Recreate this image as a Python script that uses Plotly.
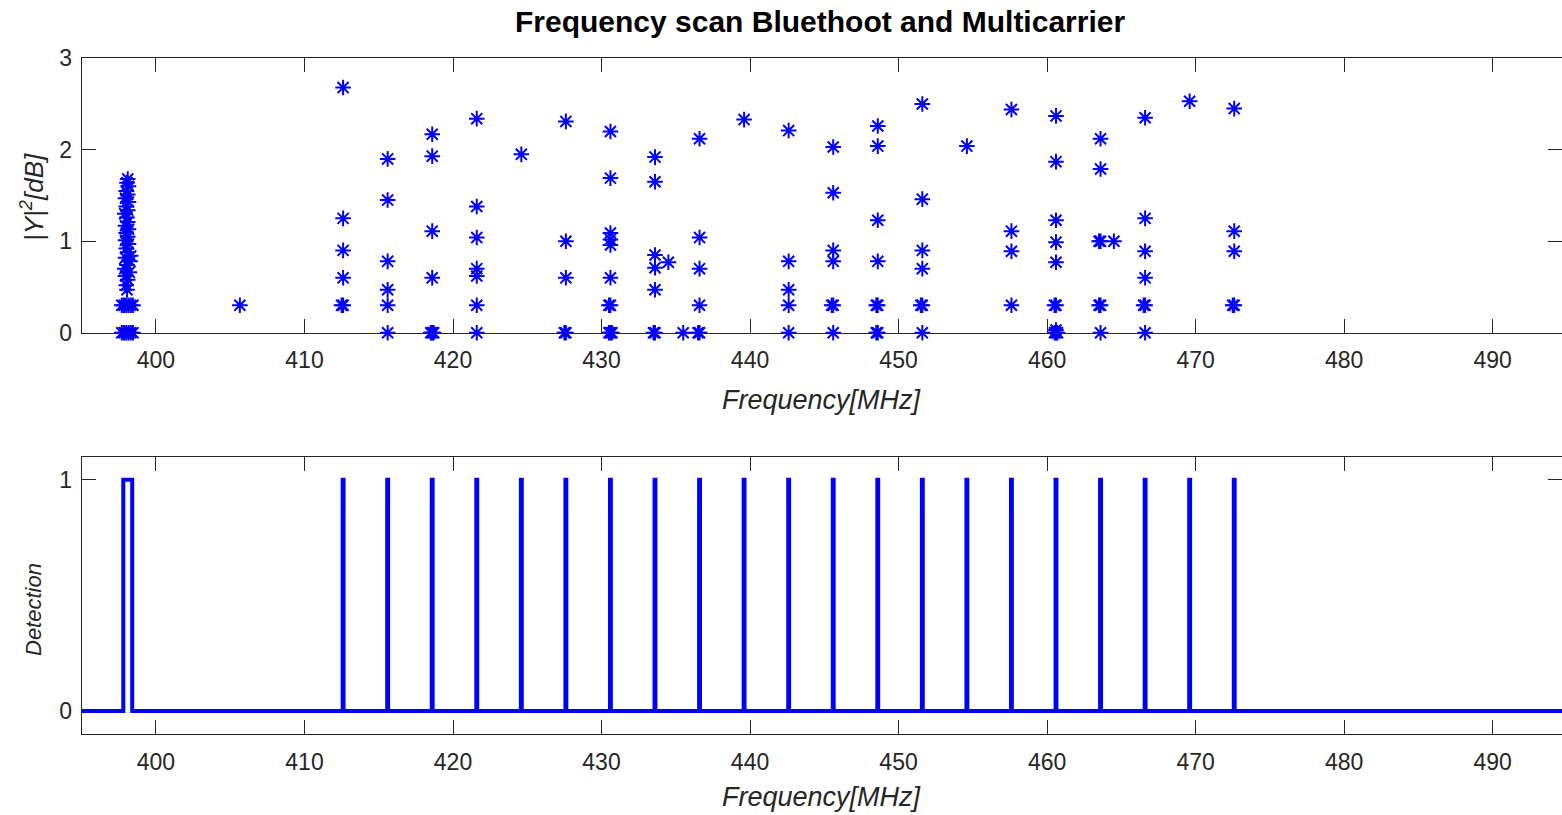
import plotly.graph_objects as go

# ---------------- data ----------------
# Top panel: |Y|^2 [dB] samples per frequency (MHz)
scan_freq = [
    # Bluetooth cluster near 398 MHz
    397.7, 397.85, 398.0, 398.15, 398.3, 398.45,
    397.7, 397.85, 398.0, 398.15, 398.3, 398.45,
    398.05, 398.0, 398.1, 397.95, 398.2, 397.9, 398.05, 398.25, 397.95, 398.3,
    398.1, 398.0, 398.15, 397.95, 398.1, 398.0, 398.15, 397.95, 398.1, 398.05,
    397.9, 398.1, 398.0, 398.15, 397.95, 398.1, 398.0, 398.15, 398.05, 398.1,
    405.65,
    412.6, 412.6, 412.6, 412.6, 412.6, 412.5,
    415.6, 415.6, 415.6, 415.6, 415.6, 415.6,
    418.6, 418.6, 418.6, 418.6, 418.6, 418.5, 418.7,
    421.6, 421.6, 421.6, 421.6, 421.6, 421.6, 421.6,
    424.6,
    427.6, 427.6, 427.6, 427.6, 427.5,
    430.6, 430.6, 430.6, 430.6, 430.6, 430.6, 430.6, 430.5, 430.6, 430.5, 430.7,
    433.6, 433.6, 433.6, 433.6, 433.6, 433.6, 433.5, 434.5,
    435.5,
    436.6, 436.6, 436.6, 436.6, 436.6, 436.5,
    439.6,
    442.6, 442.6, 442.6, 442.6, 442.6,
    445.6, 445.6, 445.6, 445.6, 445.6, 445.5, 445.6,
    448.6, 448.6, 448.6, 448.6, 448.6, 448.5, 448.6, 448.5,
    451.6, 451.6, 451.6, 451.6, 451.6, 451.5, 451.6,
    454.6,
    457.6, 457.6, 457.6, 457.6,
    460.6, 460.6, 460.6, 460.6, 460.6, 460.6, 460.5, 460.6, 460.5, 460.7, 460.6,
    463.6, 463.6, 463.6, 463.5, 463.6, 463.5, 463.6, 464.5,
    466.6, 466.6, 466.6, 466.6, 466.6, 466.5, 466.6,
    469.6,
    472.6, 472.6, 472.6, 472.6, 472.5,
]
scan_level = [
    0, 0, 0, 0, 0, 0,
    0.3, 0.3, 0.3, 0.3, 0.3, 0.3,
    0.47, 0.52, 0.58, 0.62, 0.66, 0.70, 0.74, 0.78, 0.82, 0.84,
    0.88, 0.92, 0.97, 1.01, 1.05, 1.09, 1.13, 1.17, 1.21, 1.26,
    1.30, 1.34, 1.38, 1.43, 1.47, 1.51, 1.55, 1.60, 1.64, 1.68,
    0.3,
    2.68, 1.25, 0.9, 0.6, 0.3, 0.3,
    1.9, 1.45, 0.78, 0.47, 0.3, 0,
    2.17, 1.93, 1.11, 0.6, 0, 0, 0,
    2.34, 1.38, 1.04, 0.70, 0.62, 0.3, 0,
    1.95,
    2.31, 1.0, 0.6, 0, 0,
    2.2, 1.69, 1.09, 1.02, 0.96, 0.6, 0.3, 0.3, 0, 0, 0,
    1.92, 1.65, 0.85, 0.71, 0.47, 0, 0, 0.77,
    0,
    2.12, 1.04, 0.70, 0.3, 0, 0,
    2.33,
    2.21, 0.78, 0.47, 0.3, 0,
    2.03, 1.53, 0.9, 0.78, 0.3, 0.3, 0,
    2.26, 2.04, 1.23, 0.78, 0.3, 0.3, 0, 0,
    2.5, 1.46, 0.9, 0.7, 0.3, 0.3, 0,
    2.04,
    2.44, 1.11, 0.89, 0.3,
    2.37, 1.87, 1.23, 0.99, 0.77, 0.3, 0.3, 0, 0, 0, 0.03,
    2.12, 1.79, 1.0, 1.0, 0.3, 0.3, 0, 1.0,
    2.35, 1.25, 0.89, 0.6, 0.3, 0.3, 0,
    2.53,
    2.45, 1.11, 0.89, 0.3, 0.3,
]

# Bottom panel: detection flag vs frequency (MHz)
det_freq = [
    395.0, 397.8, 397.8, 398.4, 398.4,
    412.57, 412.57, 412.63, 412.63,
    415.57, 415.57, 415.63, 415.63,
    418.57, 418.57, 418.63, 418.63,
    421.57, 421.57, 421.63, 421.63,
    424.57, 424.57, 424.63, 424.63,
    427.57, 427.57, 427.63, 427.63,
    430.57, 430.57, 430.63, 430.63,
    433.57, 433.57, 433.63, 433.63,
    436.57, 436.57, 436.63, 436.63,
    439.57, 439.57, 439.63, 439.63,
    442.57, 442.57, 442.63, 442.63,
    445.57, 445.57, 445.63, 445.63,
    448.57, 448.57, 448.63, 448.63,
    451.57, 451.57, 451.63, 451.63,
    454.57, 454.57, 454.63, 454.63,
    457.57, 457.57, 457.63, 457.63,
    460.57, 460.57, 460.63, 460.63,
    463.57, 463.57, 463.63, 463.63,
    466.57, 466.57, 466.63, 466.63,
    469.57, 469.57, 469.63, 469.63,
    472.57, 472.57, 472.63, 472.63,
    495.0,
]
det_val = [0, 0, 1, 1, 0] + [0, 1, 1, 0] * 21 + [0]

x_ticks = [400, 410, 420, 430, 440, 450, 460, 470, 480, 490]
top_y_ticks = [0, 1, 2, 3]
bot_y_ticks = [0, 1]

# ---------------- figure ----------------
W, H = 1562, 815
BLUE = "#0000ff"
AX = "#262626"
FONT = "Liberation Sans, Arial, sans-serif"

fig = go.Figure()
fig.add_trace(go.Scatter(
    x=scan_freq, y=scan_level, mode="markers", cliponaxis=False,
    marker=dict(symbol="asterisk-open", size=13, color=BLUE,
                line=dict(width=2, color=BLUE)),
    xaxis="x", yaxis="y", showlegend=False, hoverinfo="x+y"))
fig.add_trace(go.Scatter(
    x=det_freq, y=det_val, mode="lines",
    line=dict(color=BLUE, width=4),
    xaxis="x2", yaxis="y2", showlegend=False))
# invisible helpers so the right-side tick axes are drawn
fig.add_trace(go.Scatter(x=[scan_freq[0]], y=[scan_level[0]], mode="markers",
                         marker=dict(opacity=0), xaxis="x", yaxis="y3",
                         showlegend=False, hoverinfo="skip"))
fig.add_trace(go.Scatter(x=[det_freq[0]], y=[det_val[0]], mode="markers",
                         marker=dict(opacity=0), xaxis="x2", yaxis="y4",
                         showlegend=False, hoverinfo="skip"))

left = 81.7 / W
xr = [395.0, 395.0 + (W - 81.7) / 14.852]

common_x = dict(range=xr, tickvals=x_ticks, ticks="inside", ticklen=14,
                tickwidth=1.3, tickcolor=AX, showline=True, linecolor=AX,
                linewidth=1.3, mirror="ticks", showgrid=False, zeroline=False,
                tickfont=dict(family=FONT, size=23, color=AX),
                domain=[left, 1.0], automargin=False, fixedrange=True,
                ticklabelstandoff=7)
common_y = dict(ticks="inside", ticklen=14, tickwidth=1.3, tickcolor=AX,
                showline=True, linecolor=AX, linewidth=1.3, mirror=False,
                showgrid=False, zeroline=False,
                tickfont=dict(family=FONT, size=23, color=AX),
                automargin=False, fixedrange=True, ticklabelstandoff=4)
right_y = dict(ticks="inside", ticklen=14, tickwidth=1.3, tickcolor=AX,
               showline=False, showgrid=False, zeroline=False,
               showticklabels=False, side="right", fixedrange=True,
               automargin=False)

top_dom = [1 - 332.7 / H, 1 - 58.3 / H]
bot_dom = [1 - 734 / H, 1 - 456.7 / H]

fig.update_layout(
    width=W, height=H,
    margin=dict(l=0, r=0, t=0, b=0, pad=0),
    paper_bgcolor="white", plot_bgcolor="white",
    xaxis=dict(common_x, anchor="y"),
    yaxis=dict(common_y, range=[0, 3], tickvals=top_y_ticks, anchor="x",
               domain=top_dom),
    xaxis2=dict(common_x, anchor="y2", layer="below traces"),
    yaxis2=dict(common_y, range=[-0.1, 1.1], tickvals=bot_y_ticks, anchor="x2",
                domain=bot_dom, layer="below traces"),
    yaxis3=dict(right_y, range=[0, 3], tickvals=top_y_ticks, anchor="x",
                overlaying="y"),
    yaxis4=dict(right_y, range=[-0.1, 1.1], tickvals=bot_y_ticks, anchor="x2",
                overlaying="y2", layer="below traces"),
)

ann = [
    dict(text="<b>Frequency scan Bluethoot and Multicarrier</b>",
         x=820 / W, y=1 - 22 / H, font=dict(family=FONT, size=30, color="black")),
    dict(text="<i>Frequency[MHz]</i>", x=822 / W, y=1 - 400 / H,
         font=dict(family=FONT, size=27, color=AX)),
    dict(text="<i>Frequency[MHz]</i>", x=822 / W, y=1 - 797 / H,
         font=dict(family=FONT, size=27, color=AX)),
    dict(text="<i>|Y|<sup>2</sup>[dB]</i>", x=33 / W, y=1 - 197 / H, textangle=-90,
         font=dict(family=FONT, size=26, color=AX)),
    dict(text="<i>Detection</i>", x=33 / W, y=1 - 610 / H, textangle=-90,
         font=dict(family=FONT, size=22, color=AX)),
]
for a in ann:
    a.update(xref="paper", yref="paper", showarrow=False,
             xanchor="center", yanchor="middle")
fig.update_layout(annotations=ann)

fig.write_html("out.html", config={"displayModeBar": False},
               post_script="document.body.style.margin='0';document.body.style.overflow='hidden';")
